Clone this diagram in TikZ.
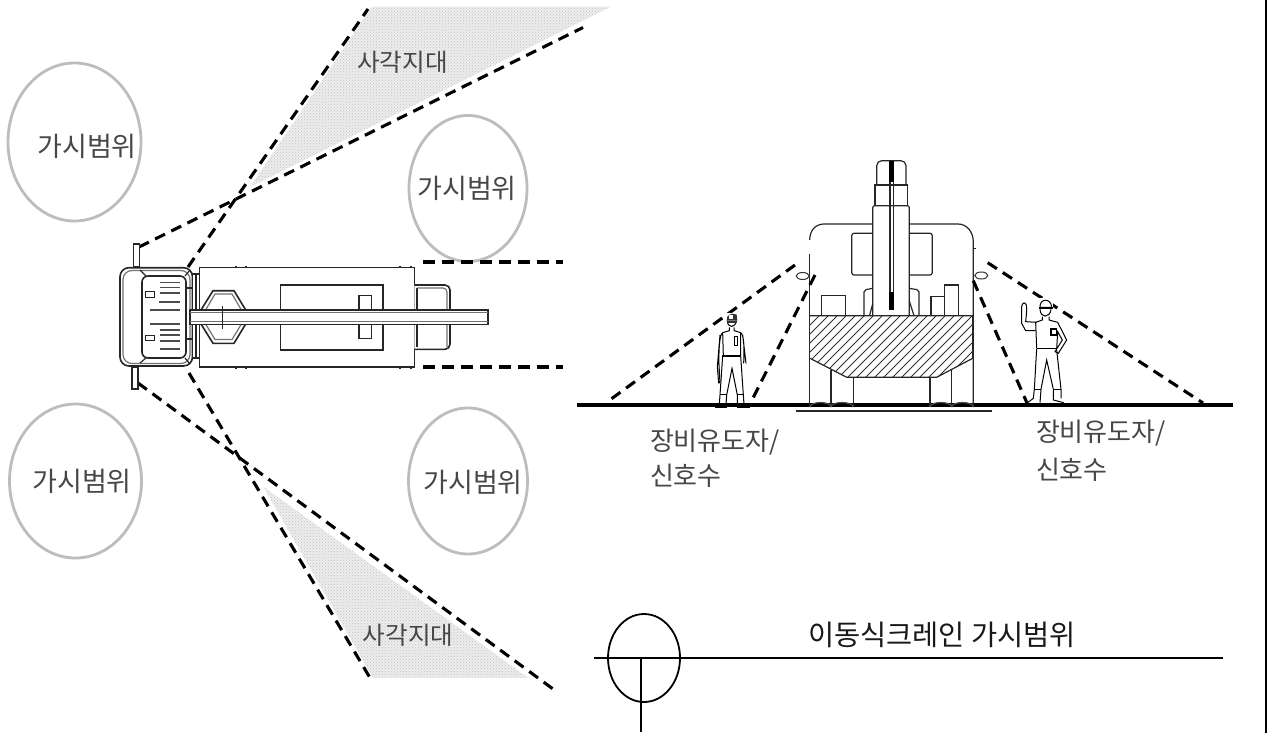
\documentclass[tikz,border=0pt]{standalone}
\usepackage{fontspec}
\setmainfont{Noto Sans CJK KR}
\usetikzlibrary{patterns,shapes.geometric}
\definecolor{txt}{gray}{0.28}
\definecolor{circ}{gray}{0.74}
\tikzset{
  x=1pt,y=-1pt,
  every node/.style={inner sep=0pt,outer sep=0pt},
  dashthick/.style={line width=3.1pt,dash pattern=on 11pt off 7pt},
  dashhoriz/.style={line width=3.8pt,dash pattern=on 11.5pt off 7.5pt},
  visring/.style={ellipse,draw=circ,line width=2.8pt},
  vistext/.style={text=txt,font=\fontsize{27}{27}\selectfont},
  blindtext/.style={text=txt,font=\fontsize{24.6}{24}\selectfont},
  pertext/.style={text=txt,font=\fontsize{26}{26}\selectfont,anchor=west},
  thin1/.style={line width=1.2pt,draw=black!85},
  thin2/.style={line width=1.6pt,draw=black!85},
  shade1/.style={fill=black!7,draw=none},
  shade2/.style={pattern=crosshatch dots,pattern color=black!24,draw=none},
}
\begin{document}
\begin{tikzpicture}
\useasboundingbox (0,0) rectangle (1268,733);
\fill[white] (0,0) rectangle (1268,733);
\draw[line width=1.2pt] (1266,0) -- (1266,733);

% blind zones
\fill[shade1] (250,187) -- (371.7,7) -- (610,7) -- cycle;
\fill[shade1] (263.3,486.7) -- (373,677.7) -- (528,677.7) -- cycle;
\path[shade2] (250,187) -- (371.7,7) -- (610,7) -- cycle;
\path[shade2] (263.3,486.7) -- (373,677.7) -- (528,677.7) -- cycle;

% visibility ellipses
\node[visring,minimum width=133pt,minimum height=158pt] (ringA) at (74.5,142) {};
\node[visring,minimum width=118pt,minimum height=146pt] (ringB) at (468,188.5) {};
\node[visring,minimum width=132pt,minimum height=154pt] (ringC) at (75.5,481) {};
\node[visring,minimum width=119pt,minimum height=146pt] (ringD) at (468,481) {};
\node[vistext] at (87,146) {가시범위};
\node[vistext] at (467,188) {가시범위};
\node[vistext] at (82,481) {가시범위};
\node[vistext] at (473,482) {가시범위};
\node[blindtext] at (402.5,62) {사각지대};
\node[blindtext] at (408,635) {사각지대};

% dashed sight lines, plan view
\coordinate (m1) at (139,247);
\coordinate (m1e) at (583,27.5);
\coordinate (c1) at (188,267);
\coordinate (c1e) at (368,9);
\coordinate (m2) at (138,383);
\coordinate (m2e) at (556.7,691.7);
\coordinate (c2) at (189,373);
\coordinate (c2e) at (370.7,679);
\draw[dashthick] (m1) -- (m1e);
\draw[dashthick] (c1) -- (c1e);
\draw[dashthick] (m2) -- (m2e);
\draw[dashthick] (c2) -- (c2e);
\coordinate (h1) at (423,262);
\coordinate (h1e) at (563,262);
\coordinate (h2) at (423,366.7);
\coordinate (h2e) at (563,366.7);
\draw[dashhoriz] (h1) -- (h1e);
\draw[dashhoriz] (h2) -- (h2e);

% plan view crane
\draw[thin2,fill=white] (133.3,244) rectangle (139.3,267);
\draw[thin2,fill=white] (132,367) rectangle (138,389);
\draw[thin2,fill=white,rounded corners=9pt] (120,267.7) -- (192.5,267.7) -- (192.5,366) -- (120,366) -- cycle;
\draw[thin1,black!55,rounded corners=9pt] (123,270.5) -- (190,270.5) -- (190,363.5) -- (123,363.5) -- cycle;
\draw[thin2,rounded corners=6pt] (142,276) -- (186,276) -- (186,358) -- (142,358) -- cycle;
\draw[thin1] (140,270) -- (146,276) (190,270) -- (185,276) (140,363) -- (146,358) (190,364) -- (185,358);
\draw[thin1] (186,288) -- (192,288) (186,339) -- (192,339);
\foreach \yy/\xs in {282.5/160,287.5/160,293/160,302/159,310/150,324/150,330/160,335/160,341/160,349/160}
  \draw[line width=1.4pt,black!70] (\xs,\yy) -- (179.5,\yy);
\draw[line width=1pt,black!85] (145.3,291.3) rectangle (154.3,297.3);
\draw[line width=1pt,black!85] (145.3,335.7) rectangle (154.3,340.7);
\draw[thin1,fill=white] (192.7,274) rectangle (199.3,358);
\draw[thin1] (196,274) -- (196,358);
\draw[thin2,fill=white] (199.3,267.3) rectangle (414.3,366.7);
\foreach \xx in {236,246,400,411} {
  \draw[thin1] (\xx,265.5) -- (\xx,267.3) (\xx,366.7) -- (\xx,368.5);
}
\draw[thin2] (280.3,285) rectangle (382.7,350);
\draw[thin1,fill=white] (359,295.7) rectangle (371.7,338.7);
\draw[thin2] (213,290.7) -- (234,290.7) -- (245.7,310) -- (245.7,324) -- (234,343.3) -- (213,343.3) -- (201,324) -- (201,310) -- cycle;
\draw[thin1,black!55] (215,294) -- (232,294) -- (242,311) -- (242,323) -- (232,339.5) -- (215,339.5) -- (205,323) -- (205,311) -- cycle;
\draw[thin2,fill=white,rounded corners=5pt] (414.3,285) -- (450,285) -- (450,349.3) -- (414.3,349.3);
\draw[thin1] (417,288) -- (417,347);
\draw[thin1,black!55,rounded corners=4pt] (417,288) -- (447,288) -- (447,347);
\fill[white] (190,310) rectangle (487.7,324.3);
\draw[thin2] (190,310) rectangle (487.7,324.3);
\draw[thin1,black!55] (190,312.3) -- (487.7,312.3) (190,321.7) -- (487.7,321.7);
\draw[thin1] (222.7,306) -- (222.7,329.3);

% ground and title
\coordinate (g1) at (577,405);
\coordinate (g2) at (1233,405);
\draw[line width=4.4pt] (g1) -- (g2);
\coordinate (g3) at (796,411);
\coordinate (g4) at (991.7,411);
\draw[thin1] (g3) -- (g4);

% front view crane
\draw[thin1,rounded corners=5pt] (876.7,185) -- (876.7,160.7) -- (906,160.7) -- (906,185);
\draw[thin1] (875,185) rectangle (907.3,205.7);
\draw[thin1,rounded corners=2pt] (872.7,315.7) -- (872.7,205.7) -- (909.3,205.7) -- (909.3,315.7);
\draw[thin1] (890,181) -- (890,292) (893.3,181) -- (893.3,292);
\fill[black] (888.7,160.7) rectangle (894,181.7);
\fill[black] (888.7,291.7) rectangle (894,310);
\draw[thin1] (809.7,240) .. controls (809.7,230) and (816,224) .. (824,224) -- (872.7,224);
\draw[thin1] (909.3,224) -- (958,224) .. controls (967,224) and (973.3,232) .. (973.3,242) -- (973.3,407);
\draw[thin1] (809.7,254) -- (809.7,407);
\draw[thin1] (973.3,248.5) -- (976,248.5);
\draw[thin1,rounded corners=2.5pt] (872.7,233.3) -- (851.7,233.3) -- (851.7,275) -- (872.7,275);
\draw[thin1,rounded corners=2.5pt] (909.3,233.3) -- (932.3,233.3) -- (932.3,275) -- (909.3,275);
\node[ellipse,draw=black!80,line width=1pt,minimum width=13pt,minimum height=7pt] (mirL) at (802.7,276) {};
\node[ellipse,draw=black!80,line width=1pt,minimum width=13pt,minimum height=7pt] (mirR) at (981.3,275.5) {};
\draw[thin1] (821.7,315.7) rectangle (845.3,295.7);
\draw[thin1] (931,315.7) rectangle (944.3,296.7);
\draw[thin1] (944.3,315.7) rectangle (958.3,285);
\draw[thin1,rounded corners=2pt] (864,315.7) -- (864,290) -- (872.7,288.3);
\draw[thin1] (872.7,304) -- (869.5,315.7);
\draw[thin1,rounded corners=2pt] (919,315.7) -- (919,290) -- (909.3,288.3);
\draw[thin1] (909.3,301) -- (914,315.7);
\begin{scope}
\clip (810,315.7) -- (972.7,315.7) -- (972.7,358.3) -- (936.7,377.3) -- (846.7,377.3) -- (810,358.3) -- cycle;
\foreach \k in {0,...,26}
  \draw[line width=.9pt,black!80] ({746+\k*9},380) -- ++(64,-64);
\end{scope}
\draw[thin1] (810,315.7) -- (972.7,315.7) -- (972.7,358.3) -- (936.7,377.3) -- (846.7,377.3) -- (810,358.3);
\draw[thin1] (831,370) -- (831,407) (853.3,377.3) -- (853.3,407) (930,377.3) -- (930,407) (951.7,369) -- (951.7,407);
\draw[thin1,black!70] (810,407) arc[start angle=180,end angle=360,x radius=10.5,y radius=4.5];
\draw[thin1,black!70] (831,407) arc[start angle=180,end angle=360,x radius=11.15,y radius=4.5];
\draw[thin1,black!70] (930,407) arc[start angle=180,end angle=360,x radius=10.85,y radius=4.5];
\draw[thin1,black!70] (951.7,407) arc[start angle=180,end angle=360,x radius=10.8,y radius=4.5];

% front view dashed lines
\coordinate (a1) at (795,265);
\coordinate (a2) at (607,402);
\coordinate (b1) at (815,275);
\coordinate (b2) at (750,404);
\coordinate (d1) at (987.7,262.7);
\coordinate (d2) at (1203,403);
\coordinate (e1) at (973.3,280.7);
\coordinate (e2) at (1027,403);
\draw[dashthick] (a1) -- (a2);
\draw[dashthick] (b1) -- (b2);
\draw[dashthick] (d1) -- (d2);
\draw[dashthick] (e1) -- (e2);

% left worker
\begin{scope}[shift={(700,300)},x=.3333pt,y=-.3333pt]
\fill[white] (68,95) rectangle (122,170);
\fill[white] (78,40) rectangle (112,84);
\draw[line width=1pt] (82,62) .. controls (82,85) and (108,85) .. (108,62);
\fill[black!80] (80,62) .. controls (78,45) and (95,36) .. (110,44) -- (112,62) -- cycle;
\fill[white] (88,46) rectangle (100,58);
\fill[black!80] (82,62) rectangle (110,70);
\draw[line width=1pt] (88,82) -- (88,92) -- (68,98) (102,82) -- (102,92) -- (122,98);
\draw[line width=1pt] (68,98) -- (70,168) (122,98) -- (122,168);
\draw[line width=1.2pt] (67,168) -- (122,168);
\draw[line width=1pt] (103,110) rectangle (112,137);
\draw[line width=1pt] (68,98) .. controls (58,105) and (56,150) .. (57,195) -- (60,250) (60,105) -- (52,200) -- (56,250);
\draw[line width=1pt] (122,98) .. controls (133,105) and (133,150) .. (131,190) (128,105) -- (138,190);
\draw[line width=1pt] (68,168) -- (60,285) -- (58,312) (80,285) -- (78,312) (80,285) -- (96,205) -- (112,285) -- (112,312) (130,285) -- (132,312) (130,285) -- (122,168);
\draw[line width=1pt] (60,285) -- (80,285) (112,285) -- (130,285);
\fill[black] (45,311) rectangle (80,323);
\fill[black] (112,311) rectangle (150,323);
\end{scope}

% right worker
\begin{scope}[shift={(1005,290)},x=.3333pt,y=-.3333pt]
\fill[white] (102,25) rectangle (145,85);
\draw[line width=1pt] (105,58) .. controls (106,85) and (135,85) .. (138,58);
\draw[line width=1pt,fill=white] (105,52) .. controls (103,25) and (138,22) .. (140,52) -- cycle;
\draw[line width=1.3pt] (102,54) -- (145,54);
\draw[line width=1pt] (58,38) .. controls (47,42) and (50,55) .. (50,75) -- (50,100) -- (62,122) -- (92,122);
\draw[line width=1pt] (58,38) .. controls (68,40) and (65,65) .. (62,95) -- (95,97);
\draw[line width=1pt] (112,80) -- (112,90) -- (92,97) -- (95,175) (132,80) -- (132,90) -- (158,97) -- (185,150) -- (160,190) -- (150,185) -- (172,150) -- (158,125) -- (155,177);
\draw[line width=1.2pt] (95,176) -- (155,176);
\draw[line width=1.2pt] (138,117) rectangle (155,135);
\draw[line width=1pt] (95,176) -- (88,298) -- (85,325) -- (68,338) (108,298) -- (105,338) (108,298) -- (125,210) -- (145,298) -- (145,330) -- (176,338) (168,298) -- (168,325) (168,298) -- (155,180);
\draw[line width=1.1pt] (88,299) -- (108,299) (145,299) -- (168,299);
\end{scope}

% labels
\node[pertext] at (650,442) {장비유도자/};
\node[pertext] at (650,476) {신호수};
\node[pertext] at (1036,433) {장비유도자/};
\node[pertext] at (1036,470) {신호수};
\node[anchor=west,font=\fontsize{28.4}{28}\selectfont,text=black!90] at (808,635) {이동식크레인 가시범위};
\coordinate (t1) at (594,658);
\coordinate (t2) at (1223,658);
\draw[line width=2.6pt] (t1) -- (t2);
\node[ellipse,draw=black,line width=1.8pt,minimum width=72pt,minimum height=88pt] (bubble) at (644,658) {};
\coordinate (s1) at (641,658);
\coordinate (s2) at (641,732);
\draw[line width=1.8pt] (s1) -- (s2);
\end{tikzpicture}
\end{document}
